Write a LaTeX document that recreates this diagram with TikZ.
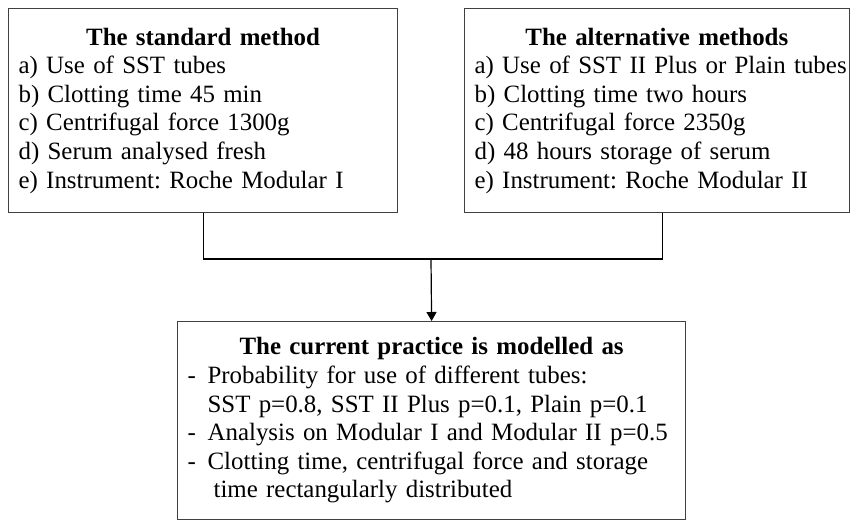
\documentclass[tikz,border=0pt]{standalone}
\usepackage{fontspec}
\setmainfont{Liberation Serif}
\usepackage{tikz}
\usetikzlibrary{arrows.meta}

\tikzset{
  methodbox/.style={draw=black!75, line width=1.2pt, anchor=north west, inner xsep=10pt, inner ysep=0pt, align=left, font=\fontsize{24.9}{28.6}\selectfont\frenchspacing},
  joinline/.style={draw=black, line width=1.2pt},
}

\begin{document}
\begin{tikzpicture}[x=1pt,y=1pt,yscale=-1]
        \useasboundingbox (0,0) rectangle (850,520);
        \node [methodbox, minimum width=389, minimum height=204, text width=369pt] (std) at (8,8) {{\centering\bfseries The standard method\par}a) Use of SST tubes\\b) Clotting time 45 min\\c) Centrifugal force 1300g\\d) Serum analysed fresh\\e) Instrument: Roche Modular I};
        \node [methodbox, minimum width=384.5, minimum height=204, text width=364.5pt] (alt) at (464,8) {{\centering\bfseries The alternative methods\par}\mbox{a) Use of SST II Plus or Plain tubes}\\b) Clotting time two hours\\c) Centrifugal force 2350g\\d) 48 hours storage of serum\\e) Instrument: Roche Modular II};
        \node [methodbox, minimum width=508, minimum height=197.5, text width=488pt] (model) at (177,321) {{\centering\bfseries The current practice is modelled as\par}\makebox[20pt][l]{-}Probability for use of different tubes:\\\hspace*{20pt}SST p=0.8, SST II Plus p=0.1, Plain p=0.1\\\makebox[20pt][l]{-}\mbox{Analysis on Modular I and Modular II p=0.5}\\\makebox[20pt][l]{-}Clotting time, centrifugal force and storage\\\hspace*{26pt}time rectangularly distributed};
        \coordinate (join) at (431,259);
        \draw [joinline] (std.south) |- (join) -| ([xshift=5.5pt]alt.south);
        \draw [joinline, -{Triangle[length=9pt,width=10pt]}] (join) -- (model.north);
\end{tikzpicture}
\end{document}
